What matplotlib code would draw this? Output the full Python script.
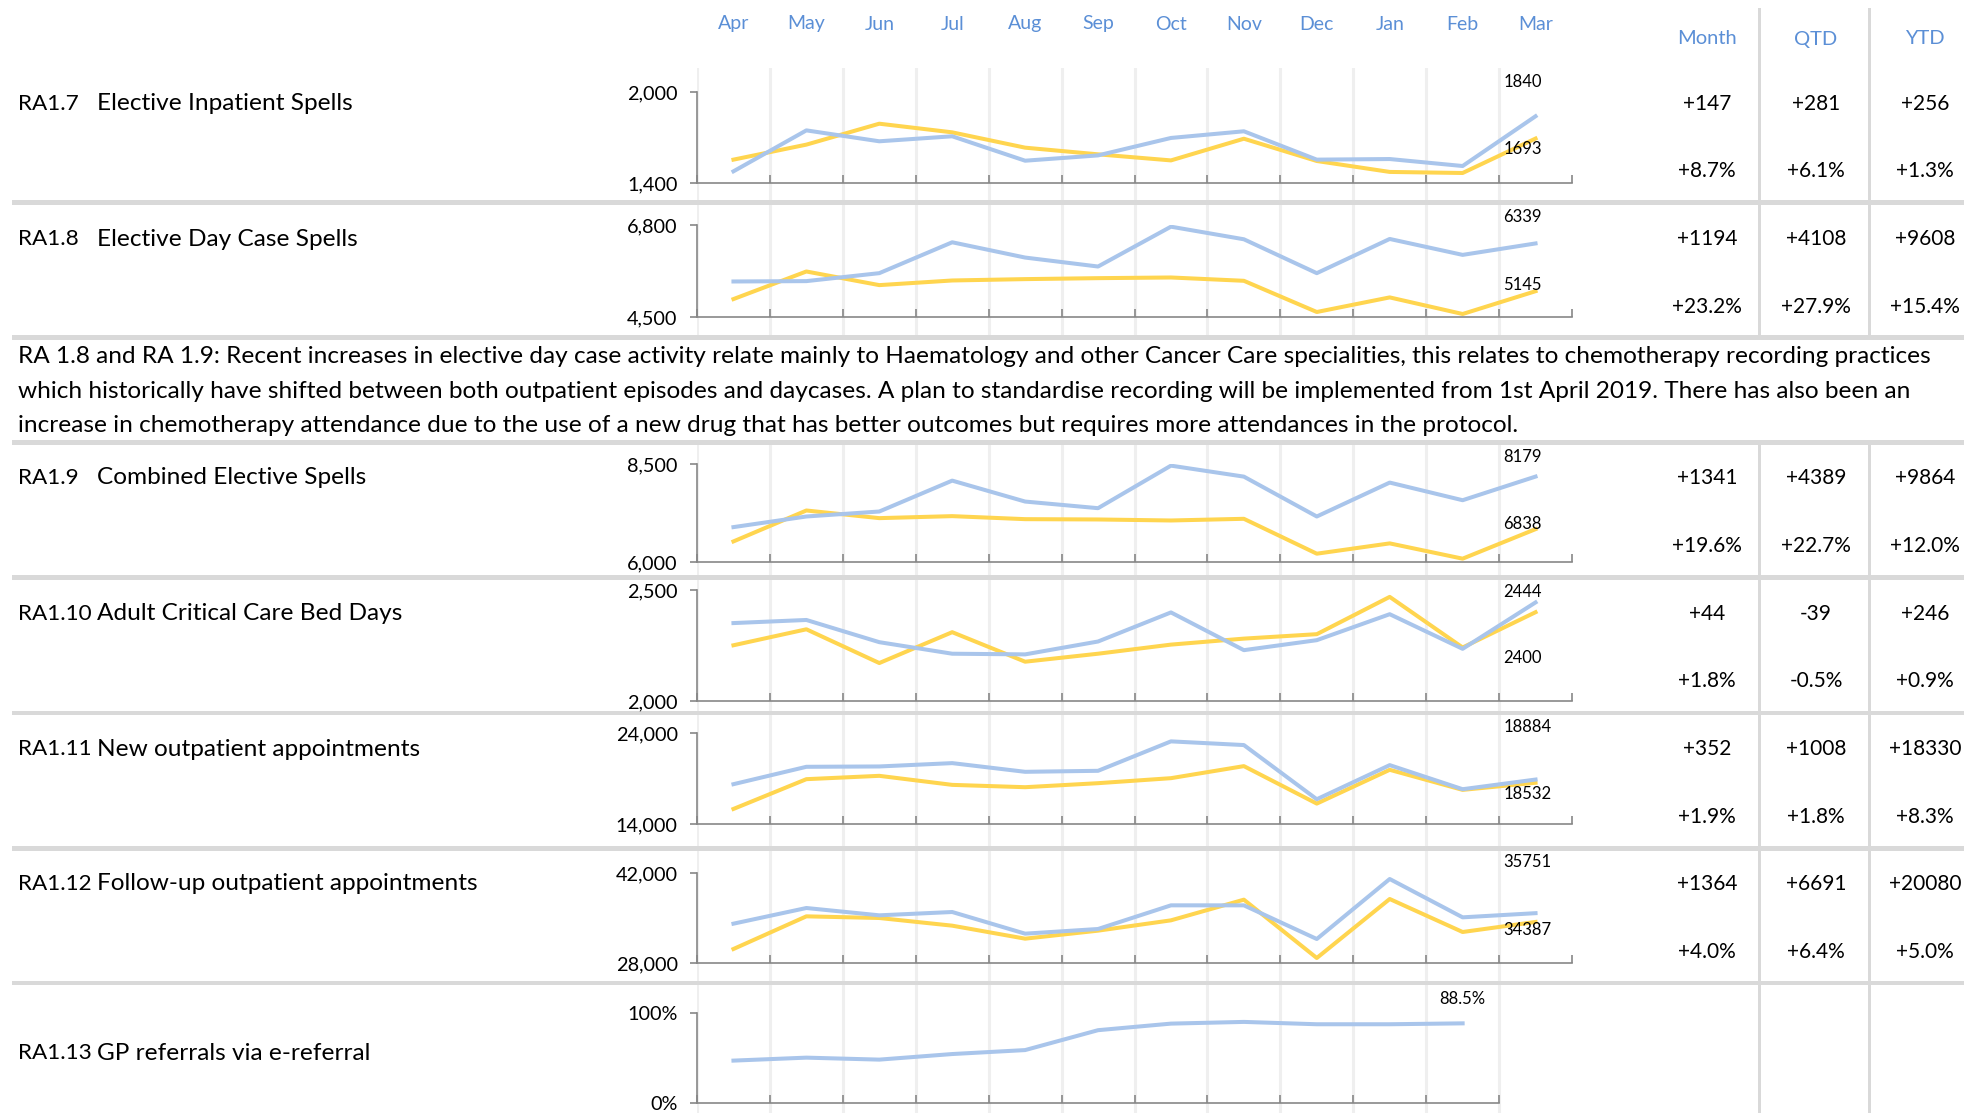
import numpy as np
import matplotlib
matplotlib.use('Agg')
import matplotlib.pyplot as plt
import matplotlib.patches as patches
from matplotlib.transforms import Bbox, TransformedBbox
from matplotlib.ticker import FuncFormatter

plt.rcParams['font.family'] = ['Lato', 'DejaVu Sans']

W, H = 1965, 1113

months = ['Apr', 'May', 'Jun', 'Jul', 'Aug', 'Sep', 'Oct', 'Nov', 'Dec', 'Jan', 'Feb', 'Mar']

codes = ['RA1.7', 'RA1.8', 'RA1.9', 'RA1.10', 'RA1.11', 'RA1.12', 'RA1.13']
names = ['Elective Inpatient Spells', 'Elective Day Case Spells', 'Combined Elective Spells',
         'Adult Critical Care Bed Days', 'New outpatient appointments',
         'Follow-up outpatient appointments', 'GP referrals via e-referral']

# this year (blue) / last year (yellow)
inpatient_now = [1477, 1747, 1675, 1708, 1547, 1582, 1697, 1741, 1554, 1558, 1512, 1840]
inpatient_prev = [1554, 1653, 1791, 1734, 1633, 1589, 1549, 1692, 1545, 1473, 1466, 1693]
daycase_now = [5388, 5397, 5596, 6368, 5986, 5762, 6758, 6443, 5596, 6451, 6053, 6339]
daycase_prev = [4948, 5638, 5297, 5413, 5447, 5471, 5488, 5405, 4625, 4990, 4575, 5145]
combined_now = [6890, 7161, 7288, 8076, 7542, 7373, 8458, 8178, 7161, 8026, 7576, 8179]
combined_prev = [6525, 7314, 7119, 7170, 7093, 7085, 7059, 7102, 6212, 6475, 6085, 6838]
critcare_now = [2351, 2365, 2265, 2213, 2210, 2268, 2399, 2229, 2274, 2391, 2235, 2444]
critcare_prev = [2251, 2323, 2171, 2310, 2177, 2213, 2254, 2281, 2301, 2469, 2241, 2400]
newop_now = [18375, 20286, 20323, 20690, 19735, 19845, 23080, 22675, 16720, 20470, 17823, 18884]
newop_prev = [15654, 18926, 19293, 18300, 18044, 18485, 19036, 20360, 16242, 19955, 17750, 18532]
fuop_now = [34118, 36555, 35415, 35933, 32563, 33289, 36970, 36970, 31733, 41066, 35103, 35751]
fuop_prev = [30178, 35259, 35000, 33807, 31785, 33030, 34637, 37852, 28778, 37955, 32822, 34387]
ereferral_now = [47.1, 50.4, 48.2, 54.4, 58.8, 80.9, 88.2, 90.1, 87.5, 87.5, 88.5]

y_ranges = [(1400, 2000), (4500, 6800), (6000, 8500), (2000, 2500),
            (14000, 24000), (28000, 42000), (0, 100)]

qtd_abs = [281, 4108, 4389, -39, 1008, 6691]
ytd_abs = [256, 9608, 9864, 246, 18330, 20080]
qtd_pct = [6.1, 27.9, 22.7, -0.5, 1.8, 6.4]
ytd_pct = [1.3, 15.4, 12.0, 0.9, 8.3, 5.0]

note = ['RA 1.8 and RA 1.9: Recent increases in elective day case activity relate mainly to Haematology and other Cancer Care specialities, this relates to chemotherapy recording practices',
        'which historically have shifted between both outpatient episodes and daycases. A plan to standardise recording will be implemented from 1st April 2019. There has also been an',
        'increase in chemotherapy attendance due to the use of a new drug that has better outcomes but requires more attendances in the protocol.']

series = [(inpatient_now, inpatient_prev), (daycase_now, daycase_prev),
          (combined_now, combined_prev), (critcare_now, critcare_prev),
          (newop_now, newop_prev), (fuop_now, fuop_prev), (ereferral_now, None)]

BLUE = '#A9C5EB'
YELLOW = '#FFD54F'
HEAD = '#5B8FD6'
SEP = '#D9D9D9'
AXIS = '#878787'
GRID = '#EFEFEF'

BIG = 17.6
MID = 15
SMALL = 12

# pixel layout
chart_x0, chart_x1 = 697, 1572
panel_y = [(92, 183), (225, 317), (464, 562), (590, 701), (733, 824), (873, 963), (1013, 1103)]
label_y = [104, 239, 478, 614, 749, 884, 1053]
row2_y = [171, 307, 546, 681, 817, 952]
end_top_y = [82, 217, 457, 592, 727, 862]
end_low_y = [149, 285, 524, 658, 794, 930]
seps = [(200, 205), (335, 340), (440, 445), (575, 580), (711, 715), (846, 851), (981, 985)]
col_x = [1707, 1816, 1925]


def fx(x):
    return x / W


def fy(y):
    return 1 - y / H


def rect(x0, y0, x1, y1):
    return [x0 / W, 1 - y1 / H, (x1 - x0) / W, (y1 - y0) / H]


fig = plt.figure(figsize=(W / 100, H / 100), dpi=100)
fig.patch.set_facecolor('white')

# faint month column lines behind the charts
bg = fig.add_axes(rect(chart_x0, 68, chart_x1, H), zorder=0)
bg.set_xlim(-0.5, 11.5)
bg.set_ylim(0, 1)
bg.axis('off')
for k in range(12):
    bg.axvline(k - 0.5, color=GRID, lw=2.2)

# note row sits on plain white
fig.patches.append(patches.Rectangle((0, fy(440)), 1, (440 - 340) / H, transform=fig.transFigure,
                                     facecolor='white', edgecolor='none', zorder=1))
for y0, y1 in seps:
    fig.patches.append(patches.Rectangle((fx(12), fy(y1)), 1 - fx(12), (y1 - y0) / H,
                                         transform=fig.transFigure, facecolor=SEP,
                                         edgecolor='none', zorder=1.5))
for x in [1760, 1870]:
    for y0, y1 in [(8, 340), (440, H)]:
        fig.patches.append(patches.Rectangle((fx(x - 1.5), fy(y1)), 3 / W, (y1 - y0) / H,
                                             transform=fig.transFigure, facecolor=SEP,
                                             edgecolor='none', zorder=1.5))

# header row
for i, m in enumerate(months):
    fig.text(bg.transData.transform((i, 0))[0] / W, fy(24), m, ha='center', va='center',
             fontsize=14, color=HEAD)
for x, h in zip(col_x, ['Month', 'QTD', 'YTD']):
    fig.text(fx(x), fy(39), h, ha='center', va='center', fontsize=14.5, color=HEAD)

for n, (code, name, (now, prev), (lo, hi), (ty, by)) in enumerate(
        zip(codes, names, series, y_ranges, panel_y)):
    slots = len(now)
    x1 = chart_x0 + (chart_x1 - chart_x0) * slots / 12
    ax = fig.add_axes(rect(chart_x0, ty, x1, by), zorder=2)
    ax.patch.set_visible(False)
    xs = np.arange(slots)
    if prev is not None:
        ax.plot(xs, prev, color=YELLOW, lw=2.9, solid_joinstyle='round')
    ax.plot(xs, now, color=BLUE, lw=2.9, solid_joinstyle='round')
    ax.set_xlim(-0.5, slots - 0.5)
    ax.set_ylim(lo, hi)
    for s in ['top', 'right']:
        ax.spines[s].set_visible(False)
    for s in ['left', 'bottom']:
        ax.spines[s].set_color(AXIS)
        ax.spines[s].set_linewidth(1.2)
    ax.set_xticks(np.arange(slots + 1) - 0.5)
    ax.set_xticklabels([])
    ax.tick_params(axis='x', direction='in', length=5.8, width=1.2, color=AXIS)
    ax.set_yticks([lo, hi])
    if prev is None:
        ax.yaxis.set_major_formatter(FuncFormatter(lambda v, p: '{:.0f}%'.format(v)))
    else:
        ax.yaxis.set_major_formatter(FuncFormatter(lambda v, p: '{:,.0f}'.format(v)))
    ax.tick_params(axis='y', direction='out', length=5, width=1.2, color=AXIS,
                   labelsize=14.3, pad=9)

    if prev is not None:
        ax.annotate(str(now[-1]), xy=(xs[-1], H - end_top_y[n]),
                    xycoords=('data', 'figure pixels'), xytext=(-32, 0),
                    textcoords='offset pixels', ha='left', va='center', fontsize=SMALL)
        ax.annotate(str(prev[-1]), xy=(xs[-1], H - end_low_y[n]),
                    xycoords=('data', 'figure pixels'), xytext=(-32, 0),
                    textcoords='offset pixels', ha='left', va='center', fontsize=SMALL)
    else:
        ax.annotate('{:.1f}%'.format(now[-1]), xy=(xs[-1], now[-1]), xytext=(0, 24),
                    textcoords='offset pixels', ha='center', va='center', fontsize=SMALL)

    # row title, code cell is narrow and cuts long codes
    t = fig.text(fx(18), fy(label_y[n]), code, ha='left', va='center', fontsize=16.2)
    t.set_clip_box(TransformedBbox(Bbox.from_extents(0, 0, fx(91), 1), fig.transFigure))
    t.set_clip_on(True)
    fig.text(fx(97), fy(label_y[n]), name, ha='left', va='center', fontsize=BIG)

    if prev is not None:
        diff = now[-1] - prev[-1]
        pct = diff / prev[-1] * 100
        top_row = ['{:+d}'.format(diff), '{:+d}'.format(qtd_abs[n]), '{:+d}'.format(ytd_abs[n])]
        low_row = ['{:+.1f}%'.format(pct), '{:+.1f}%'.format(qtd_pct[n]),
                   '{:+.1f}%'.format(ytd_pct[n])]
        for x, a, b in zip(col_x, top_row, low_row):
            fig.text(fx(x), fy(label_y[n]), a, ha='center', va='center', fontsize=MID)
            fig.text(fx(x), fy(row2_y[n]), b, ha='center', va='center', fontsize=MID)

for i, line in enumerate(note):
    fig.text(fx(18), fy(357 + 34 * i), line, ha='left', va='center', fontsize=BIG, zorder=3)

fig.savefig('out.png', dpi=100)
